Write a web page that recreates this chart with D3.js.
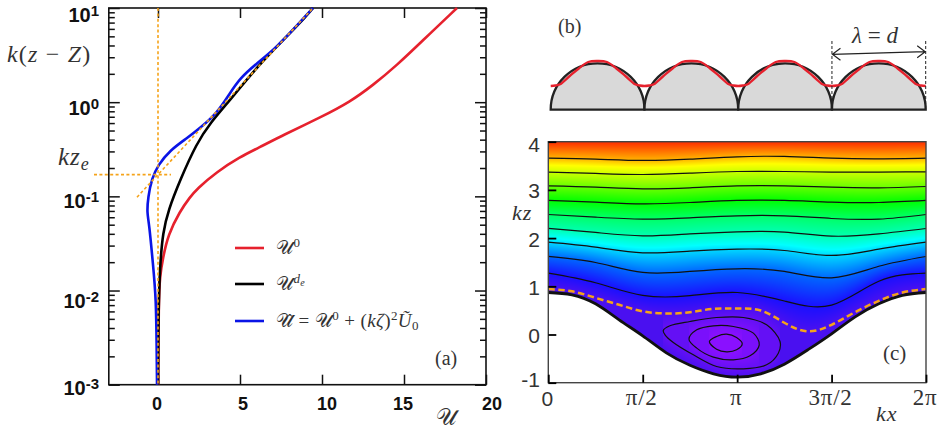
<!DOCTYPE html>
<html><head><meta charset="utf-8">
<script src="https://cdn.jsdelivr.net/npm/d3@7"></script>
<style>
html,body{margin:0;padding:0;background:#fff}
svg{display:block}
.sans{font-family:"Liberation Sans",Arial,sans-serif}
.bold{font-family:"Liberation Sans",Arial,sans-serif;font-weight:bold;fill:#111}
.serif{font-family:"Liberation Serif",serif;fill:#333}
.it{font-style:italic}
</style></head><body>
<svg id="chart" width="942" height="429" xmlns="http://www.w3.org/2000/svg"></svg>
<script>
// ---------- panel (a) ----------
const redU   = [0.01,0.04,0.12,0.30,0.61,1.34,1.95,2.37,3.58,5.0,6.1,7.62,9.98,11.71,13.11,14.57,16.16,18.23];
const redZ   = [0.001,0.0076,0.0145,0.022,0.039,0.0697,0.098,0.12,0.182,0.263,0.325,0.447,0.698,1.007,1.515,2.47,4.55,10];
const blackU = [0.005,0.02,0.12,0.30,0.63,1.34,2.36,3.17,4.39,6.22,8.66,9.45];
const blackZ = [0.001,0.0055,0.0186,0.0417,0.0714,0.1486,0.367,0.598,1.05,2.6,6.9,10];
const blueU  = [-0.06,-0.08,-0.12,-0.3,-0.55,-0.67,-0.61,-0.37,0,0.73,1.77,2.56,3.6,4.39,5.0,6.04,7.26,8.66,9.45];
const blueZ  = [0.001,0.00245,0.0083,0.0186,0.0537,0.066,0.098,0.156,0.214,0.309,0.415,0.53,0.764,1.25,1.8,2.6,3.84,7.07,10];
const logLawU = [-1.28,9.45];
const logLawZ = [0.098,10];
const kzE = 0.17;
const xTicksA = [0,5,10,15,20];
const xLabelShift = [-1,3,5,-1,6];
const yTicksA = [1e-3,1e-2,1e-1,1,10];
const yExpA = ["-3","-2","-1","0","1"];
const yLabelBase = [395,308,208,115,22];
const minorMult = [2,3,4,5,6,7,8,9];

// ---------- panel (b) ----------
const bumps = [0,1,2,3];
const waveF = [0,0.05,0.1,0.2,0.3,0.4,0.5,0.6,0.7,0.8,0.9,0.95,1];
const waveH = [0,0.02,0.07,0.39,0.70,0.96,1,0.96,0.70,0.39,0.07,0.02,0];

// ---------- panel (c) ----------
const kxGrid9  = [0,0.25,0.5,0.75,1,1.25,1.5,1.75,2];
const kxGrid17 = [0,0.125,0.25,0.375,0.5,0.625,0.75,0.875,1,1.125,1.25,1.375,1.5,1.625,1.75,1.875,2];
const c1 = [3.659,3.638,3.611,3.638,3.687,3.694,3.659,3.645,3.659];
const c2 = [3.369,3.341,3.320,3.348,3.382,3.382,3.369,3.369,3.376];
const c3 = [3.085,3.057,3.023,3.044,3.085,3.085,3.057,3.044,3.071];
const c4 = [2.781,2.746,2.712,2.739,2.781,2.781,2.746,2.739,2.781];
const c5 = [2.490,2.435,2.394,2.421,2.463,2.463,2.407,2.394,2.490];
const c6 = [2.200,2.117,2.048,2.089,2.131,2.124,2.041,2.089,2.200];
const c7 = [1.916,1.813,1.695,1.730,1.771,1.743,1.640,1.771,1.916];
const c8 = [1.619,1.494,1.287,1.308,1.363,1.308,1.176,1.415,1.619];
const c9 = [1.273,1.073,0.811,0.805,0.871,0.695,0.610,1.104,1.273];
const dividing = [0.942,0.896,0.761,0.616,0.481,0.436,0.461,0.533,0.539,0.498,0.243,0.066,0.201,0.465,0.699,0.871,0.942];
const wall = [0.871,0.824,0.637,0.305,-0.027,-0.380,-0.639,-0.815,-0.884,-0.815,-0.615,-0.315,0.015,0.367,0.637,0.813,0.871];
const loopOuter = [[.609,.083],[.644,.180],[.750,.270],[.891,.353],[1.033,.353],[1.156,.201],[1.227,-.145],[1.218,-.387],[1.156,-.629],[1.033,-.712],[.891,-.664],[.768,-.422],[.662,-.166],[.618,-.007]];
const loopMiddle = [[.745,-.097],[.786,.097],[.874,.180],[.980,.166],[1.086,.028],[1.117,-.214],[1.068,-.442],[.980,-.525],[.874,-.470],[.786,-.283]];
const loopInner = [[.853,-.145],[.891,-.041],[.944,.007],[.997,-.062],[1.027,-.193],[.997,-.318],[.944,-.359],[.891,-.304]];
const levelStops = [-3,-2,-1,0,1,2,3,3.3,4,5,6,7,8,8.5,9,10];
const levelColors = ["#8a10ff","#7a10fb","#6410f5","#4a10f0","#1a10ff","#0068ff","#00d8ff","#00ffff","#00ffb0","#00ff68","#00ff00","#68ff00","#ccff00","#ffff00","#ffb400","#ff2c00"];
const yTicksC = [-1,0,1,2,3,4];
const yLabelBaseC = [386.7,342.7,295,246.7,198,152];
const xTicksC = [0,0.5,1,1.5,2];
const xLabelsC = ["0","π/2","π","3π/2","2π"];
const xLabelShiftC = [-1,-1,-1,-1,-1];

const svg = d3.select("#chart");
const RED="#e6212d", BLUE="#0a14e6", ORANGE="#f5a31a";

// ===== Panel (a) =====
const xA = d3.scaleLinear().domain([-3,20]).range([108.8,486]);
const yA = d3.scaleLog().domain([1e-3,10]).range([384.7,8]);
const gA = svg.append("g");
const lineA = d3.line().x(d=>xA(d[0])).y(d=>yA(d[1])).curve(d3.curveBasis);
const zip=(a,b)=>a.map((v,i)=>[v,b[i]]);
const minors = yTicksA.slice(0,-1).flatMap(t=>minorMult.map(m=>t*m));
function styleAxis(g){g.select(".domain").remove();g.selectAll("line").attr("stroke","#111").attr("stroke-width",1.5);}
gA.append("rect").attr("x",xA(-3)).attr("y",yA(10)).attr("width",xA(20)-xA(-3)).attr("height",yA(1e-3)-yA(10))
  .attr("fill","none").attr("stroke","#111").attr("stroke-width",1.6);
gA.append("g").attr("transform",`translate(0,${yA(1e-3)})`)
  .call(d3.axisBottom(xA).tickValues(xTicksA).tickSize(-10).tickSizeOuter(0).tickFormat("")).call(styleAxis);
gA.append("g").attr("transform",`translate(0,${yA(10)})`)
  .call(d3.axisTop(xA).tickValues(xTicksA).tickSize(-10).tickSizeOuter(0).tickFormat("")).call(styleAxis);
gA.append("g").attr("transform",`translate(${xA(-3)},0)`)
  .call(d3.axisLeft(yA).tickValues(yTicksA).tickSize(-11).tickSizeOuter(0).tickFormat("")).call(styleAxis);
gA.append("g").attr("transform",`translate(${xA(20)},0)`)
  .call(d3.axisRight(yA).tickValues(yTicksA).tickSize(-11).tickSizeOuter(0).tickFormat("")).call(styleAxis);
gA.append("g").attr("transform",`translate(${xA(-3)},0)`)
  .call(d3.axisLeft(yA).tickValues(minors).tickSize(-6).tickSizeOuter(0).tickFormat("")).call(styleAxis);
gA.append("g").attr("transform",`translate(${xA(20)},0)`)
  .call(d3.axisRight(yA).tickValues(minors).tickSize(-6).tickSizeOuter(0).tickFormat("")).call(styleAxis);
gA.selectAll(".xl").data(xTicksA).join("text").attr("class","bold").attr("x",(d,i)=>xA(d)+xLabelShift[i]).attr("y",410)
  .attr("font-size",18).attr("text-anchor","middle").text(d=>d);
yTicksA.forEach((t,i)=>{
  const tx=gA.append("text").attr("class","bold").attr("x",99).attr("y",yLabelBase[i]).attr("font-size",20).attr("text-anchor","end");
  tx.append("tspan").text("10");
  tx.append("tspan").attr("dy",-6).attr("font-size",15).text(yExpA[i]);
});
gA.append("path").attr("d",lineA(zip(redU,redZ))).attr("fill","none").attr("stroke",RED).attr("stroke-width",2.6);
gA.append("path").attr("d",lineA(zip(blackU,blackZ))).attr("fill","none").attr("stroke","#000").attr("stroke-width",2.6);
gA.append("path").attr("d",lineA(zip(blueU,blueZ))).attr("fill","none").attr("stroke",BLUE).attr("stroke-width",2.6);
const dashA={fill:"none",stroke:ORANGE,"stroke-width":1.6,"stroke-dasharray":"3 2.4"};
function applyAttrs(s,o){for(const k in o)s.attr(k,o[k]);return s;}
applyAttrs(gA.append("line").attr("x1",xA(0)).attr("x2",xA(0)).attr("y1",yA(10)).attr("y2",yA(1e-3)),dashA);
applyAttrs(gA.append("line").attr("x1",94).attr("x2",171).attr("y1",yA(kzE)).attr("y2",yA(kzE)),dashA);
applyAttrs(gA.append("path").attr("d",d3.line().x(d=>xA(d[0])).y(d=>yA(d[1]))(zip(logLawU,logLawZ))),dashA);
const U="\u{1D4B0}";
function serif(x,y,size,ls){const t=svg.append("text").attr("class","serif").attr("x",x).attr("y",y).attr("font-size",size);if(ls)t.attr("letter-spacing",ls);return t;}
serif(7,62,24,1.2).html('<tspan class="it">k</tspan>(<tspan class="it">z</tspan> − <tspan class="it">Z</tspan>)');
serif(58,165,25,1).html('<tspan class="it">kz</tspan><tspan class="it" dy="5" font-size="18">e</tspan>');
function legendRow(y,color,html){
  svg.append("line").attr("x1",235).attr("x2",264).attr("y1",y).attr("y2",y).attr("stroke",color).attr("stroke-width",2.6);
  serif(276,y+6,19,0.4).html(html);
}
legendRow(248,RED,`${U}<tspan dy="-7" font-size="13">0</tspan>`);
legendRow(284,"#000",`${U}<tspan class="it" dy="-7" font-size="13">d</tspan><tspan class="it" dy="3" font-size="10">e</tspan>`);
legendRow(321,BLUE,`${U}\u0302 = ${U}<tspan dy="-7" font-size="13">0</tspan><tspan dy="7"> + (</tspan><tspan class="it">kζ</tspan>)<tspan dy="-7" font-size="13">2</tspan><tspan class="it" dy="7">Ũ</tspan><tspan dy="3" font-size="13">0</tspan>`);
serif(435,365,20).text("(a)");
serif(436,425,23).text(U);

// ===== Panel (b) =====
const xB = d3.scaleLinear().domain([0,4]).range([550.7,925.7]);
const yB = d3.scaleLinear().domain([0,1]).range([86,61]);
const baseY=109.7, R=(xB(1)-xB(0))/2;
const gB=svg.append("g");
const arc=d3.arc().innerRadius(0).outerRadius(R).startAngle(-Math.PI/2).endAngle(Math.PI/2);
gB.selectAll(".dome").data(bumps).join("path").attr("transform",d=>`translate(${xB(d+0.5)},${baseY}) scale(1,0.99)`)
  .attr("d",arc()).attr("fill","#d9d9d9").attr("stroke","#222").attr("stroke-width",2.3);
const wavePts=[]; bumps.forEach(b=>waveF.forEach((f,i)=>{ if(i||!b) wavePts.push([b+f,waveH[i]]); }));
gB.append("path").attr("d",d3.line().x(d=>xB(d[0])).y(d=>yB(d[1])).curve(d3.curveCatmullRom)(wavePts))
  .attr("fill","none").attr("stroke",RED).attr("stroke-width",2.3);
[3,4].forEach(v=>gB.append("line").attr("x1",xB(v)).attr("x2",xB(v)).attr("y1",41).attr("y2",baseY)
  .attr("stroke","#222").attr("stroke-width",1).attr("stroke-dasharray","3 2"));
const ax0=xB(3)+0.5, ax1=xB(4)-0.5, ay0=54.3, ay1=51.7;
gB.append("path").attr("fill","none").attr("stroke","#222").attr("stroke-width",1.2)
 .attr("d",`M${ax0},${ay0}L${ax1},${ay1}M${ax0+8},${ay0-6}L${ax0},${ay0}L${ax0+8},${ay0+6}M${ax1-8},${ay1-6}L${ax1},${ay1}L${ax1-8},${ay1+6}`);
serif(852,43,23).html('<tspan class="it">λ</tspan> = <tspan class="it">d</tspan>');
serif(558,33,20).text("(b)");

// ===== Panel (c) =====
const xC=d3.scaleLinear().domain([0,2]).range([548.3,926]);
const yC=d3.scaleLinear().domain([-1,4]).range([382.7,141.7]);
const gC=svg.append("g");
const imgLayer=gC.append("g");
const lineC=d3.line().x(d=>xC(d[0])).y(d=>yC(d[1])).curve(d3.curveNatural);
const closedC=d3.line().x(d=>xC(d[0])).y(d=>yC(d[1])).curve(d3.curveCatmullRomClosed.alpha(0.5));
const contours=[c1,c2,c3,c4,c5,c6,c7,c8,c9];
const cPaths=contours.map((c,i)=>({level:9-i,d:lineC(zip(kxGrid9,c))}));
const loops=[[loopOuter,-1],[loopMiddle,-2],[loopInner,-3]];
const lPaths=loops.map(([l,lev])=>({level:lev,d:closedC(l)}));
const wallD=lineC(zip(kxGrid17,wall)), divD=lineC(zip(kxGrid17,dividing));
const thin=s=>s.attr("fill","none").attr("stroke","#111").attr("stroke-width",1.2);
const cEls=cPaths.map(p=>thin(gC.append("path").attr("d",p.d)));
const lEls=lPaths.map(p=>thin(gC.append("path").attr("d",p.d)));
const wallEl=gC.append("path").attr("d",wallD).attr("fill","none").attr("stroke","#111").attr("stroke-width",2.8);
const divEl=gC.append("path").attr("d",divD).attr("fill","none").attr("stroke",ORANGE).attr("stroke-width",2.5).attr("stroke-dasharray","6.5 3.5");
(function(){
  const L=Math.ceil(xC(0)),Rr=Math.floor(xC(2)),T=Math.ceil(yC(4)),B=Math.ceil(yC(-1));
  const W=Rr-L,H=B-T;
  const color=d3.scaleLinear().domain(levelStops).range(levelColors).interpolate(d3.interpolateRgb);
  const polys=[];
  const add=(el,level)=>{const n=el.getTotalLength(),a=[];for(let s=0;s<=n;s+=1){const p=el.getPointAtLength(s);a.push([p.x,p.y]);}const e=el.getPointAtLength(n);a.push([e.x,e.y]);polys.push({level,a});};
  cEls.forEach((e,i)=>add(e.node(),cPaths[i].level));
  lEls.forEach((e,i)=>add(e.node(),lPaths[i].level));
  add(divEl.node(),0);
  add(wallEl.node(),0);
  const wp=polys[polys.length-1];
  const cv=document.createElement("canvas");cv.width=W;cv.height=H;
  const ctx=cv.getContext("2d");const im=ctx.createImageData(W,H);
  for(let i=0;i<W;i++){
    const x=Math.min(Math.max(L+i+0.5,xC(0)+0.05),xC(2)-0.05);
    const anchors=[[yC(4),10]];
    let wy=null;
    polys.forEach(P=>{const a=P.a;for(let k=1;k<a.length;k++){const p=a[k-1],q=a[k];
      if((p[0]-x)*(q[0]-x)<=0&&p[0]!==q[0]){const y=p[1]+(q[1]-p[1])*(x-p[0])/(q[0]-p[0]);anchors.push([y,P.level]);if(P===wp)wy=y;}}});
    anchors.sort((a,b)=>a[0]-b[0]);
    const ys=anchors.map(a=>a[0]);
    for(let j=0;j<H;j++){
      const y=T+j+0.5;
      if(wy!==null&&y>wy){continue;}
      let k=d3.bisectRight(ys,y);
      let lev;
      if(k<=0)lev=anchors[0][1];else if(k>=anchors.length)lev=anchors[anchors.length-1][1];
      else{const a=anchors[k-1],b=anchors[k];lev=a[1]+(b[1]-a[1])*(y-a[0])/Math.max(b[0]-a[0],1e-6);}
      const c=d3.rgb(color(lev));const o=(j*W+i)*4;
      im.data[o]=c.r;im.data[o+1]=c.g;im.data[o+2]=c.b;im.data[o+3]=255;
    }
  }
  ctx.putImageData(im,0,0);
  imgLayer.append("image").attr("x",L).attr("y",T).attr("width",W).attr("height",H).attr("href",cv.toDataURL());
})();
gC.append("rect").attr("x",xC(0)).attr("y",yC(4)).attr("width",xC(2)-xC(0)).attr("height",yC(-1)-yC(4))
  .attr("fill","none").attr("stroke","#444").attr("stroke-width",1.4);
function styleAxisC(g){g.select(".domain").remove();g.selectAll("line").attr("stroke","#000").attr("stroke-width",1.8);}
gC.append("g").attr("transform",`translate(${xC(0)},0)`).call(d3.axisLeft(yC).tickValues(yTicksC).tickSize(-8).tickSizeOuter(0).tickFormat("")).call(styleAxisC);
gC.append("g").attr("transform",`translate(0,${yC(-1)})`).call(d3.axisBottom(xC).tickValues(xTicksC).tickSize(-8).tickSizeOuter(0).tickFormat("")).call(styleAxisC);
gC.selectAll(".yl").data(yTicksC).join("text").attr("class","sans").attr("fill","#333").attr("x",540).attr("text-anchor","end")
  .attr("y",(d,i)=>yLabelBaseC[i]).attr("font-size",21).text(d=>d);
xLabelsC.forEach((t,i)=>{
  svg.append("text").attr("x",xC(xTicksC[i])+xLabelShiftC[i]).attr("y",i==0?406:405).attr("text-anchor","middle")
    .attr("font-size",i==0?21:23).attr("fill","#333").attr("class",i==0?"sans":"serif").attr("letter-spacing",i==0?0:0.8).text(t);
});
serif(512,220,22,1).html('<tspan class="it">kz</tspan>');
serif(876,421,22,1).html('<tspan class="it">kx</tspan>');
serif(883,360,21).text("(c)");
</script>
</body></html>
